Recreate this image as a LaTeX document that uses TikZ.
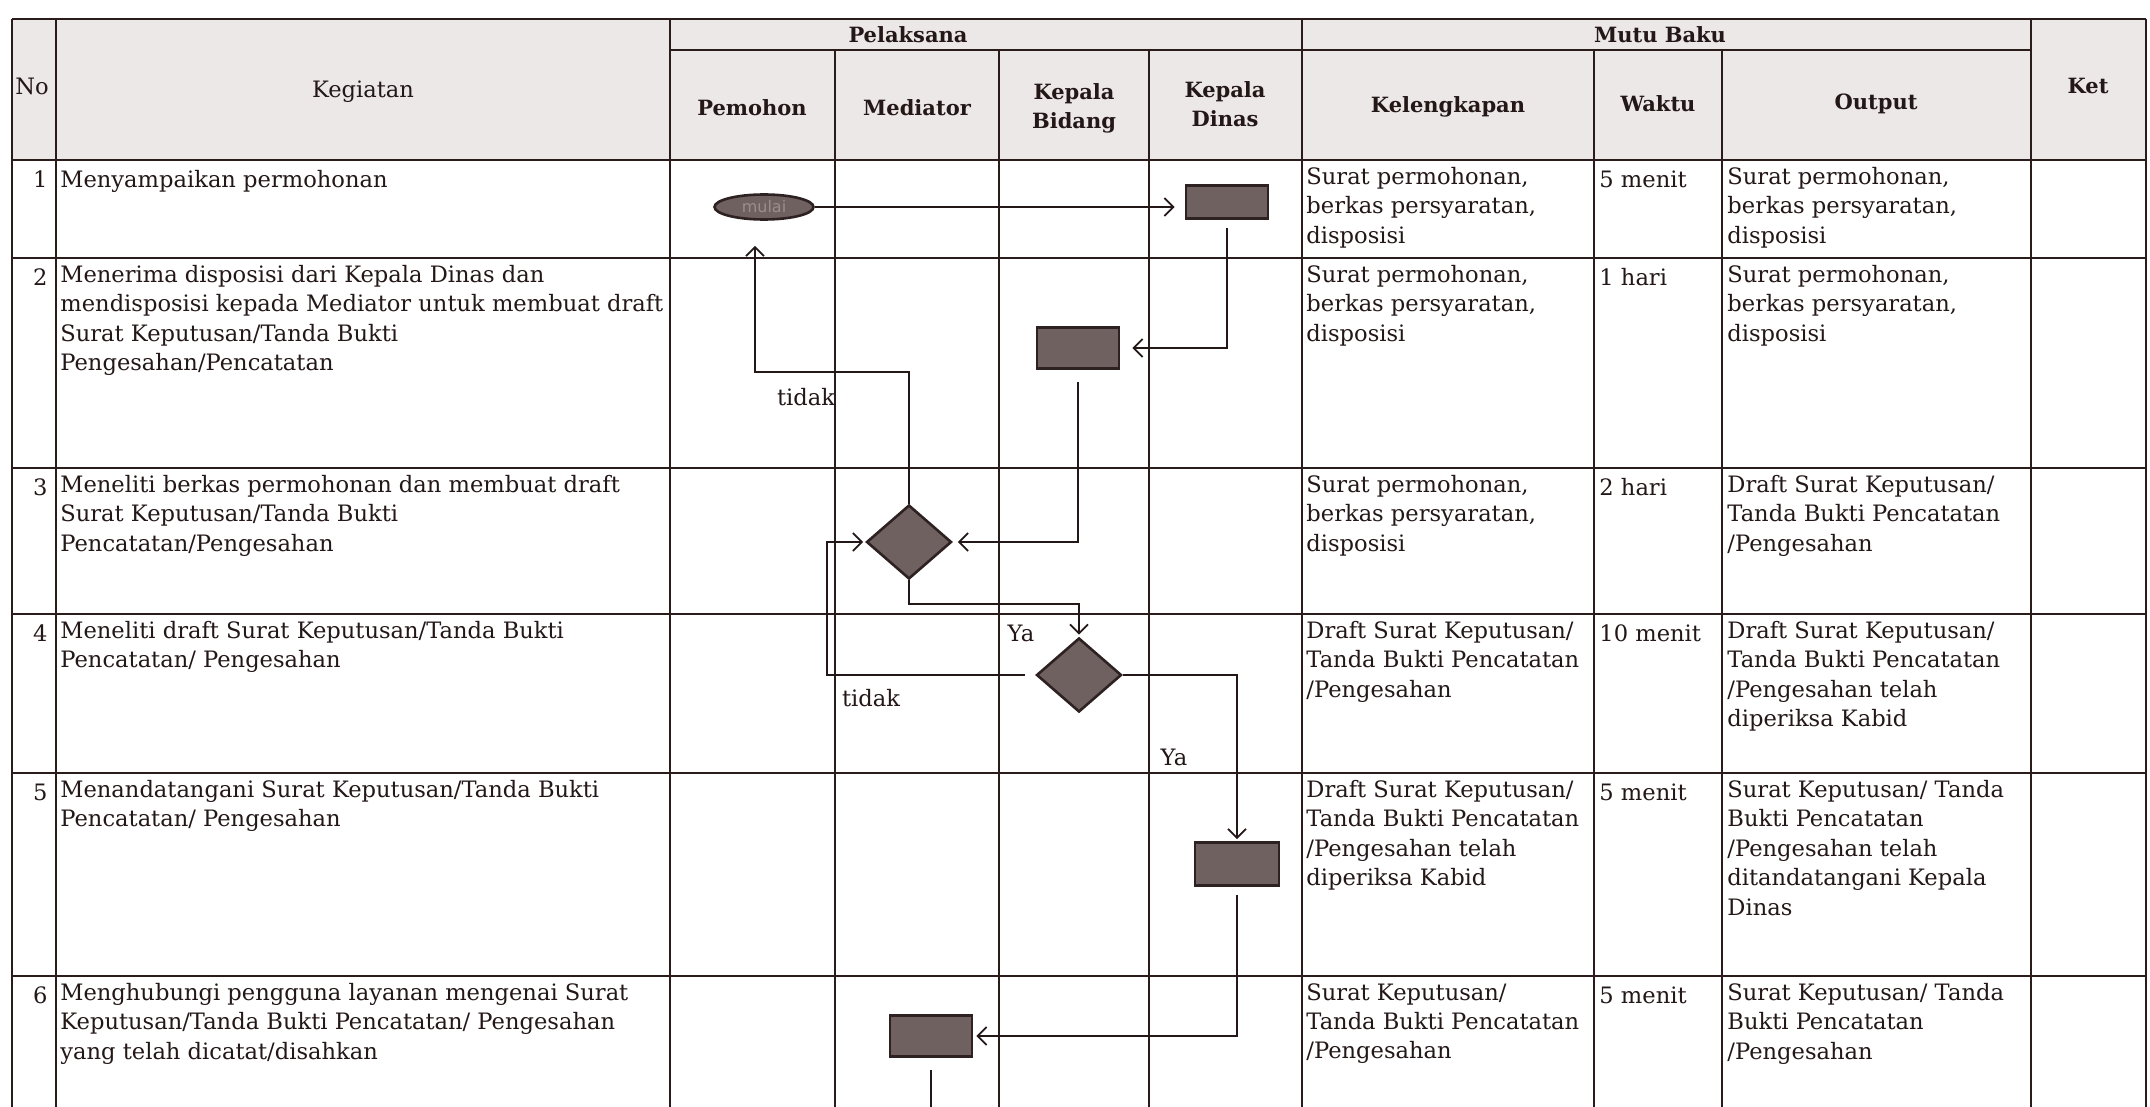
\documentclass[tikz,border=0pt]{standalone}
\usepackage{fontspec}
\setmainfont{DejaVu Serif}
\setsansfont{DejaVu Sans}
\usetikzlibrary{shapes.geometric,arrows.meta,calc}
\definecolor{ink}{HTML}{231717}
\definecolor{rulec}{HTML}{2B1C1C}
\definecolor{headbg}{HTML}{ECE8E7}
\definecolor{shapefill}{HTML}{6F6160}
\definecolor{shapeedge}{HTML}{2E2121}
\definecolor{mulaitext}{HTML}{9A8D8C}
\newcommand{\bodyfont}{\fontsize{11.3}{14.7}\selectfont}
\newcommand{\headfont}{\fontsize{10.5}{14.5}\selectfont\bfseries}
\begin{document}
\begin{tikzpicture}[x=0.5pt,y=-0.5pt,
  tline/.style={draw=rulec,line width=1.3pt},
  cell/.style={anchor=north west,inner sep=0pt,align=left,font=\bodyfont,text=ink,execute at begin node=\strut},
  num/.style={anchor=north east,inner sep=0pt,font=\bodyfont,text=ink,execute at begin node=\strut},
  head/.style={inner sep=0pt,align=center,font=\headfont,text=ink},
  plainhead/.style={inner sep=0pt,align=center,font=\bodyfont,text=ink},
  proc/.style={rectangle,draw=shapeedge,fill=shapefill,line width=1.3pt,minimum width=41pt,minimum height=19pt,inner sep=0pt},
  dec/.style={diamond,draw=shapeedge,fill=shapefill,line width=1.3pt,minimum width=42.5pt,minimum height=37pt,inner sep=0pt},
  term/.style={ellipse,draw=shapeedge,fill=shapefill,line width=1.3pt,minimum width=49.5pt,minimum height=12.5pt,inner sep=0pt,font=\sffamily\fontsize{8}{9}\selectfont,text=mulaitext},
  arr/.style={draw=ink,line width=0.9pt,-{Straight Barb[length=4.5pt,width=9pt]}},
  flow/.style={draw=ink,line width=0.9pt},
  lbl/.style={font=\bodyfont,text=ink,inner sep=0pt}
]
\useasboundingbox (0,0) rectangle (2150,1107);
\fill[white] (0,0) rectangle (2150,1107);
% header background
\fill[headbg] (12,19) rectangle (2146,160);
% horizontal rules
\draw[tline] (12,19) -- (2146,19);
\draw[tline] (670,50) -- (2031,50);
\draw[tline] (12,160) -- (2146,160);
\foreach \yy in {258,468,614,773,976} {\draw[tline] (12,\yy) -- (2146,\yy);}
% vertical rules
\foreach \xx in {12,56,670,1302,2031,2146} {\draw[tline] (\xx,19) -- (\xx,1107);}
\foreach \xx in {835,999,1149,1594,1722} {\draw[tline] (\xx,50) -- (\xx,1107);}

% header texts
\node[plainhead] (hNo) at (32,86) {No};
\node[plainhead] (hKeg) at (363,92) {Kegiatan};
\node[head] (hPel) at (908,35) {Pelaksana};
\node[head] (hPem) at (752,108) {Pemohon};
\node[head] (hMed) at (917,108) {Mediator};
\node[head] (hKB) at (1074,108) {Kepala\\Bidang};
\node[head] (hKD) at (1225,104) {Kepala\\Dinas};
\node[head] (hMB) at (1660,35) {Mutu Baku};
\node[head] (hKel) at (1448,107) {Kelengkapan};
\node[head] (hWak) at (1658,104) {Waktu};
\node[head] (hOut) at (1876,104) {Output};
\node[head] (hKet) at (2088,86) {Ket};

% row numbers
\node[num] (n1) at (48,167) {1};
\node[num] (n2) at (48,265) {2};
\node[num] (n3) at (48,475) {3};
\node[num] (n4) at (48,621) {4};
\node[num] (n5) at (48,780) {5};
\node[num] (n6) at (48,983) {6};

% kegiatan
\node[cell] (k1) at (60,167) {Menyampaikan permohonan};
\node[cell] (k2) at (60,265) {Menerima disposisi dari Kepala Dinas dan\\mendisposisi kepada Mediator untuk membuat draft\\Surat Keputusan/Tanda Bukti\\Pengesahan/Pencatatan};
\node[cell] (k3) at (60,475) {Meneliti berkas permohonan dan membuat draft\\Surat Keputusan/Tanda Bukti\\Pencatatan/Pengesahan};
\node[cell] (k4) at (60,621) {Meneliti draft Surat Keputusan/Tanda Bukti\\Pencatatan/ Pengesahan};
\node[cell] (k5) at (60,780) {Menandatangani Surat Keputusan/Tanda Bukti\\Pencatatan/ Pengesahan};
\node[cell] (k6) at (60,983) {Menghubungi pengguna layanan mengenai Surat\\Keputusan/Tanda Bukti Pencatatan/ Pengesahan\\yang telah dicatat/disahkan};

% kelengkapan
\node[cell] (kl1) at (1306,167) {Surat permohonan,\\berkas persyaratan,\\disposisi};
\node[cell] (kl2) at (1306,265) {Surat permohonan,\\berkas persyaratan,\\disposisi};
\node[cell] (kl3) at (1306,475) {Surat permohonan,\\berkas persyaratan,\\disposisi};
\node[cell] (kl4) at (1306,621) {Draft Surat Keputusan/\\Tanda Bukti Pencatatan\\/Pengesahan};
\node[cell] (kl5) at (1306,780) {Draft Surat Keputusan/\\Tanda Bukti Pencatatan\\/Pengesahan telah\\diperiksa Kabid};
\node[cell] (kl6) at (1306,983) {Surat Keputusan/\\Tanda Bukti Pencatatan\\/Pengesahan};

% waktu
\node[cell] (w1) at (1599,167) {5 menit};
\node[cell] (w2) at (1599,265) {1 hari};
\node[cell] (w3) at (1599,475) {2 hari};
\node[cell] (w4) at (1599,621) {10 menit};
\node[cell] (w5) at (1599,780) {5 menit};
\node[cell] (w6) at (1599,983) {5 menit};

% output
\node[cell] (o1) at (1727,167) {Surat permohonan,\\berkas persyaratan,\\disposisi};
\node[cell] (o2) at (1727,265) {Surat permohonan,\\berkas persyaratan,\\disposisi};
\node[cell] (o3) at (1727,475) {Draft Surat Keputusan/\\Tanda Bukti Pencatatan\\/Pengesahan};
\node[cell] (o4) at (1727,621) {Draft Surat Keputusan/\\Tanda Bukti Pencatatan\\/Pengesahan telah\\diperiksa Kabid};
\node[cell] (o5) at (1727,780) {Surat Keputusan/ Tanda\\Bukti Pencatatan\\/Pengesahan telah\\ditandatangani Kepala\\Dinas};
\node[cell] (o6) at (1727,983) {Surat Keputusan/ Tanda\\Bukti Pencatatan\\/Pengesahan};

% flowchart shapes
\node[term] (mulai) at (764,207) {mulai};
\node[proc,minimum height=16.5pt] (kd1) at (1227,202) {};
\node[proc,minimum height=20.5pt] (kb2) at (1078,348) {};
\node[dec] (d1) at (909,542) {};
\node[dec] (d2) at (1079,675) {};
\node[proc,minimum width=42pt,minimum height=21.5pt] (kd5) at (1237,864) {};
\node[proc,minimum height=20.5pt] (med6) at (931,1036) {};

\coordinate (lx) at (827,600);
\coordinate (medend) at (931,1107);

% connectors
\draw[arr,shorten >=5pt] (mulai.east) -- (mulai.east -| kd1.west);
\draw[arr,shorten <=4pt,shorten >=6pt] (kd1.south) |- (kb2.east);
\draw[arr,shorten <=6pt,shorten >=2.5pt] (kb2.south) |- (d1.east);
\draw[arr,shorten >=12.5pt] (d1.north) -- ++(0,-132) -| ($(mulai.south)+(-9,0)$);
\draw[arr,shorten >=1pt] (d1.south) -- ++(0,24) -| (d2.north);
\draw[arr,shorten <=5pt,shorten >=1pt] (d2.west) -- (d2.west -| lx) |- (d1.west);
\draw[arr,shorten >=1pt] (d2.east) -| (kd5.north);
\draw[arr,shorten <=4pt,shorten >=1.5pt] (kd5.south) |- (med6.east);
\draw[flow,shorten <=6pt] (med6.south) -- (medend);

% connector labels
\node[lbl] (t1) at (806,397) {tidak};
\node[lbl] (ya1) at (1021,633) {Ya};
\node[lbl] (t2) at (871,698) {tidak};
\node[lbl] (ya2) at (1174,757) {Ya};
\end{tikzpicture}
\end{document}
